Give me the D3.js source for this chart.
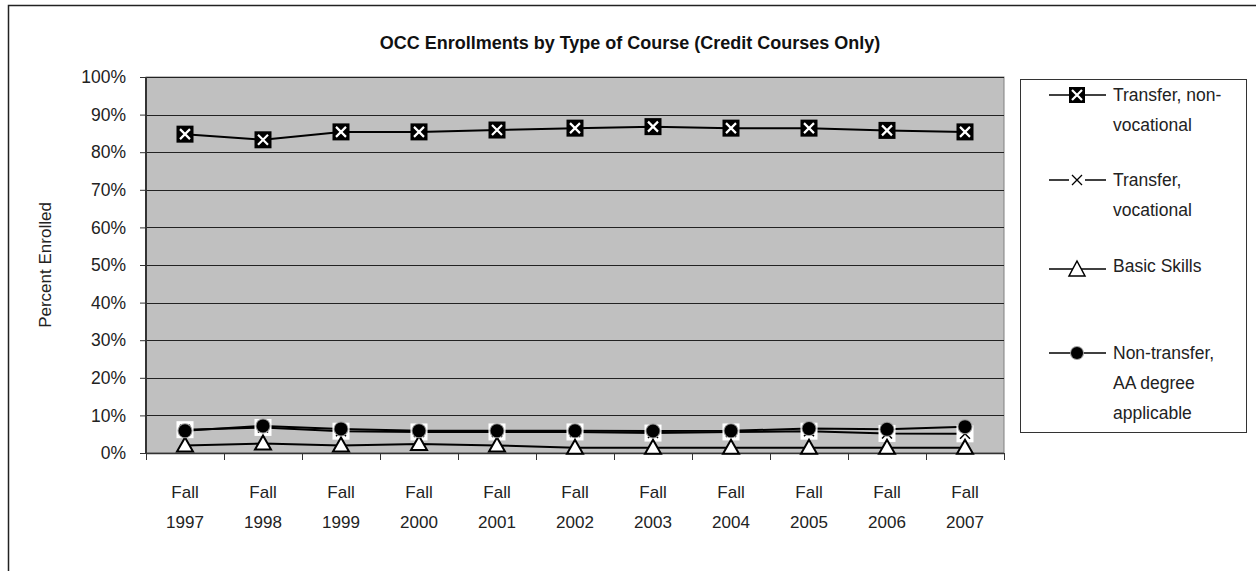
<!DOCTYPE html>
<html><head><meta charset="utf-8">
<script src="https://cdn.jsdelivr.net/npm/d3@7"></script>
<style>
body{margin:0;background:#fff;}
svg{display:block;font-family:"Liberation Sans",Arial,sans-serif;}
</style></head>
<body>
<svg id="c" width="1256" height="571"></svg>
<script>
const categories = ["1997","1998","1999","2000","2001","2002","2003","2004","2005","2006","2007"];
const transferNonVoc = [84.8,83.3,85.4,85.4,85.9,86.4,86.8,86.4,86.4,85.8,85.4];
const transferVoc    = [6.2,6.8,5.8,5.6,5.6,5.6,5.3,5.6,5.8,5.2,5.1];
const basicSkills    = [2.0,2.5,2.0,2.4,2.0,1.4,1.4,1.4,1.4,1.4,1.4];
const nonTransferAA  = [5.9,7.2,6.4,5.9,5.9,5.9,5.85,5.9,6.5,6.3,7.0];
const yTicks = [0,10,20,30,40,50,60,70,80,90,100];
const title = "OCC Enrollments by Type of Course (Credit Courses Only)";
const yLabel = "Percent Enrolled";
const legendLabels = [["Transfer, non-","vocational"],["Transfer,","vocational"],["Basic Skills"],["Non-transfer,","AA degree","applicable"]];

const svg = d3.select("#c");
const L=146, R=1004, T=77, B=453;
const x = d3.scaleBand().domain(categories).range([L,R]);
const y = d3.scaleLinear().domain([0,100]).range([B,T]);

// outer frame
svg.append("path").attr("d","M8.5,575V5.5H1260").attr("fill","none").attr("stroke","#222").attr("stroke-width",1.5);

// title
svg.append("text").attr("x",630).attr("y",49).attr("text-anchor","middle")
  .attr("font-weight","bold").attr("font-size",18).attr("fill","#111").text(title);

// plot bg
svg.append("rect").attr("x",L).attr("y",T).attr("width",R-L).attr("height",B-T).attr("fill","#c0c0c0").attr("stroke","#808080").attr("stroke-width",1);

// gridlines
svg.append("g").selectAll("line").data(yTicks.filter(d=>d>0)).join("line")
  .attr("x1",L).attr("x2",R).attr("y1",d=>Math.round(y(d))+0.5).attr("y2",d=>Math.round(y(d))+0.5)
  .attr("stroke","#222").attr("stroke-width",1);

// y axis
const ya = svg.append("g").attr("transform",`translate(${L},0)`)
  .call(d3.axisLeft(y).tickValues(yTicks).tickFormat(d=>d+"%").tickSize(6).tickPadding(14));
ya.select(".domain").attr("stroke","#333").attr("stroke-width",2).attr("d",`M0,${T}V${B}`);
ya.selectAll(".tick line").attr("stroke","#333");
ya.selectAll(".tick text").attr("font-size",17.5).attr("fill","#222").attr("font-family","Liberation Sans, Arial, sans-serif");

// x axis
const xa = svg.append("g");
xa.append("line").attr("x1",L).attr("x2",R).attr("y1",B+0.5).attr("y2",B+0.5).attr("stroke","#333").attr("stroke-width",1.5);
const edges = categories.map(c=>x(c)).concat([x(categories[categories.length-1])+x.bandwidth()]);
xa.selectAll(".xt").data(edges).join("line").attr("class","xt")
  .attr("x1",d=>Math.round(d)+0.5).attr("x2",d=>Math.round(d)+0.5).attr("y1",B).attr("y2",B+7).attr("stroke","#333");
xa.selectAll(".xl1").data(categories).join("text").attr("class","xl1")
  .attr("x",d=>x(d)+x.bandwidth()/2).attr("y",498).attr("text-anchor","middle").attr("font-size",17).attr("fill","#222").text("Fall");
xa.selectAll(".xl2").data(categories).join("text").attr("class","xl2")
  .attr("x",d=>x(d)+x.bandwidth()/2).attr("y",528).attr("text-anchor","middle").attr("font-size",17).attr("fill","#222").text(d=>d);

// y label
svg.append("text").attr("transform","translate(51,265) rotate(-90)").attr("text-anchor","middle")
  .attr("font-size",17).attr("fill","#222").text(yLabel);

const cx = d=>x(d)+x.bandwidth()/2;
const line = d3.line().x((d,i)=>cx(categories[i])).y(d=>y(d));
const series = [transferNonVoc, transferVoc, basicSkills, nonTransferAA];

// markers
function mSquareX(g){
  g.append("rect").attr("x",-8.5).attr("y",-8.5).attr("width",17).attr("height",17).attr("fill","#000");
  g.append("path").attr("d","M-5,-5L5,5M5,-5L-5,5").attr("stroke","#fff").attr("stroke-width",2.2);
}
function mX(g){
  g.append("rect").attr("x",-8.5).attr("y",-8.5).attr("width",17).attr("height",17).attr("fill","#fff");
  g.append("path").attr("d","M-5,-5L5,5M5,-5L-5,5").attr("stroke","#000").attr("stroke-width",1.5);
}
function mTri(g){
  g.append("path").attr("d","M0,-8L8,6L-8,6Z").attr("fill","#fff").attr("stroke","#000").attr("stroke-width",2).attr("stroke-linejoin","miter");
}
function mDot(g){
  g.append("circle").attr("r",7.5).attr("fill","#999");
  g.append("circle").attr("r",6.5).attr("fill","#000");
}
const markers = [mSquareX, mX, mTri, mDot];

series.forEach((s)=>{
  svg.append("path").datum(s).attr("d",line).attr("fill","none").attr("stroke","#000").attr("stroke-width",2);
});
series.forEach((s,k)=>{
  svg.append("g").selectAll("g").data(s).join("g")
    .attr("transform",(d,i)=>`translate(${cx(categories[i])},${y(d)})`)
    .each(function(){ markers[k](d3.select(this)); });
});

// legend
const lg = svg.append("g");
lg.append("rect").attr("x",1020.5).attr("y",79.5).attr("width",226).attr("height",353).attr("fill","#fff").attr("stroke","#333").attr("stroke-width",1);
const legY = [95,180,269,353];
const lineH = 30;
legendLabels.forEach((lab,k)=>{
  const g = lg.append("g");
  g.append("line").attr("x1",1049).attr("x2",1106).attr("y1",legY[k]).attr("y2",legY[k]).attr("stroke","#000").attr("stroke-width",1.5);
  const m = g.append("g").attr("transform",`translate(1077,${legY[k]})`);
  if(k===0){
    m.append("rect").attr("x",-8).attr("y",-8).attr("width",16).attr("height",16).attr("fill","#000");
    m.append("path").attr("d","M-5,-5L5,5M5,-5L-5,5").attr("stroke","#fff").attr("stroke-width",2.2);
  } else if(k===1){
    m.append("rect").attr("x",-8).attr("y",-8).attr("width",16).attr("height",16).attr("fill","#fff");
    m.append("path").attr("d","M-5,-5L5,5M5,-5L-5,5").attr("stroke","#000").attr("stroke-width",1.3);
  } else if(k===2){
    m.append("path").attr("d","M0,-8L8,7L-8,7Z").attr("fill","#fff").attr("stroke","#000").attr("stroke-width",1.5);
  } else {
    m.append("circle").attr("r",7).attr("fill","#999");
    m.append("circle").attr("r",6).attr("fill","#000");
  }
  const baseY = k===2 ? 266 : legY[k];
  lab.forEach((t,j)=>{
    g.append("text").attr("x",1113).attr("y",baseY+6+j*lineH).attr("font-size",17.5).attr("fill","#222").text(t);
  });
});
</script>
</body></html>
